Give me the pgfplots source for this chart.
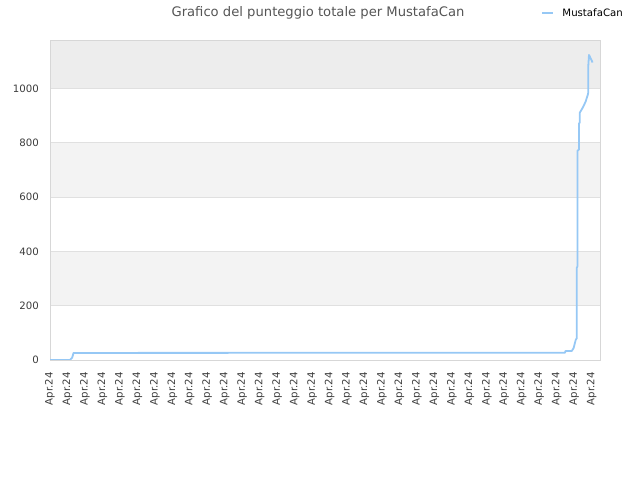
\documentclass[border=0pt]{standalone}
\usepackage{pgfplots}
\pgfplotsset{compat=1.18}
\usepackage{fontspec}
\setmainfont{DejaVu Sans}
\definecolor{linecol}{RGB}{150,200,245}
\definecolor{bandA}{RGB}{243,243,243}
\definecolor{bandB}{RGB}{237,237,237}
\definecolor{gridc}{RGB}{224,224,224}
\definecolor{boxc}{RGB}{215,215,215}
\definecolor{tickc}{RGB}{60,60,60}
\definecolor{titlec}{RGB}{85,85,85}
\begin{document}
\begin{tikzpicture}
\begin{axis}[
  set layers,
  at={(50bp,120bp)}, anchor=south west,
  scale only axis, width=550bp, height=320bp,
  xmin=0, xmax=31.48, ymin=0, ymax=1178,
  xtick={0,...,31}, xticklabel={Apr.24},
  ytick={0,200,400,600,800,1000},
  major tick length=0pt,
  ymajorgrids, grid style={gridc, line width=0.6bp},
  axis line style={boxc, line width=0.8bp},
  tick label style={font=\fontsize{10.2}{12}\selectfont, text=tickc},
  /pgf/number format/assume math mode=true,
  /pgf/number format/1000 sep={},
  xticklabel style={rotate=90, anchor=east, inner sep=0pt, xshift=-12bp},
  yticklabel style={anchor=east, inner sep=0pt, xshift=-11bp},
  legend style={at={(axis description cs:0.8927,1.084)}, anchor=west, draw=none, fill=none, inner sep=0pt, column sep=8.5bp, nodes={inner sep=0pt}, font=\fontsize{10.2}{12}\selectfont, legend cell align=left},
  legend image code/.code={\draw[#1] (0bp,0bp) -- (11bp,0bp);},
]
\begin{pgfonlayer}{axis background}
\fill[bandA] (axis cs:0,200) rectangle (axis cs:31.48,400);
\fill[bandA] (axis cs:0,600) rectangle (axis cs:31.48,800);
\fill[bandB] (axis cs:0,1000) rectangle (axis cs:31.48,1178);
\end{pgfonlayer}
\addplot[linecol, line width=1.8bp, line join=round] coordinates {
(0,0)(1.145,0)(1.20,4)(1.26,8)(1.30,15)(1.345,26)
(29.48,27)(29.50,33)(29.86,33)(29.97,44)(30.09,74)(30.15,80)(30.15,339)(30.19,345)(30.19,770)(30.28,775)(30.28,870)(30.32,875)(30.32,910)(30.50,930)(30.65,950)(30.78,976)(30.81,985)(30.81,1083)(30.85,1123)(30.91,1115)(31.02,1100)(31.05,1095)
};
\addlegendentry{MustafaCan}
\end{axis}
\node[font=\fontsize{13.2}{15}\selectfont, text=titlec, inner sep=0] at (318bp,467bp) {Grafico del punteggio totale per MustafaCan};
\pgfresetboundingbox
\path[use as bounding box] (0bp,0bp) rectangle (640bp,480bp);
\end{tikzpicture}
\end{document}
